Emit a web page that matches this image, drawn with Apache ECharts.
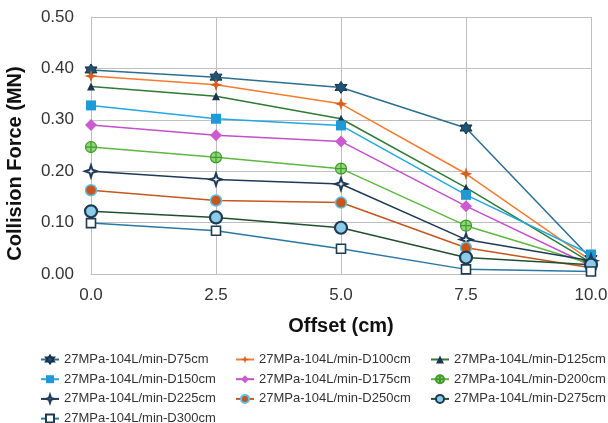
<!DOCTYPE html>
<html>
<head>
<meta charset="utf-8">
<script src="https://cdn.jsdelivr.net/npm/echarts@6/dist/echarts.min.js"></script>
<style>
  html, body { margin: 0; padding: 0; background: #fff; }
  #chart { width: 608px; height: 423px; }
</style>
</head>
<body>
<div id="chart"></div>
<script>
// offsets (cm)
const offsets = [0, 2.5, 5, 7.5, 10];

// collision force (MN) per standoff distance
const d75 = [0.397, 0.383, 0.363, 0.284, 0.030];
const d100 = [0.385, 0.368, 0.331, 0.195, 0.026];
const d125 = [0.365, 0.346, 0.302, 0.168, 0.022];
const d150 = [0.328, 0.302, 0.289, 0.154, 0.038];
const d175 = [0.290, 0.270, 0.258, 0.132, 0.016];
const d200 = [0.247, 0.227, 0.205, 0.094, 0.020];
const d225 = [0.200, 0.184, 0.175, 0.067, 0.026];
const d250 = [0.163, 0.143, 0.139, 0.051, 0.012];
const d275 = [0.122, 0.110, 0.090, 0.032, 0.018];
const d300 = [0.099, 0.084, 0.049, 0.009, 0.005];

const names = [
  "27MPa-104L/min-D75cm", "27MPa-104L/min-D100cm", "27MPa-104L/min-D125cm",
  "27MPa-104L/min-D150cm", "27MPa-104L/min-D175cm", "27MPa-104L/min-D200cm",
  "27MPa-104L/min-D225cm", "27MPa-104L/min-D250cm", "27MPa-104L/min-D275cm",
  "27MPa-104L/min-D300cm"
];

// marker shapes
const hexagram = "path://M10,0 L12.9,5 L18.7,5 L15.8,10 L18.7,15 L12.9,15 L10,20 L7.1,15 L1.3,15 L4.2,10 L1.3,5 L7.1,5 Z";
const star4 = "path://M10,0 L12.5,7.5 L20,10 L12.5,12.5 L10,20 L7.5,12.5 L0,10 L7.5,7.5 Z";
const circlePlus = "path://M0,10 A10,10 0 1,1 20,10 A10,10 0 1,1 0,10 Z M10,1 L10,19 M1,10 L19,10";

function pair(x, y) {
  return x.map((v, i) => [v, y[i]]);
}

function mkSeries(name, data, line, marker, symbol, size, extra) {
  return {
    name: name,
    type: "line",
    data: pair(offsets, data),
    symbol: symbol,
    symbolSize: size,
    lineStyle: { color: line, width: 1.5 },
    itemStyle: Object.assign({ color: marker }, extra || {}),
    emphasis: { disabled: true },
    z: 2
  };
}

const series = [
  mkSeries(names[0], d75, "#2A6F8F", "#1F5373", hexagram, 12, { borderColor: "#17324a", borderWidth: 1 }),
  mkSeries(names[1], d100, "#F47B30", "#D4601E", star4, 13),
  mkSeries(names[2], d125, "#2F7A35", "#1B3550", "triangle", 8),
  mkSeries(names[3], d150, "#22A7E0", "#1E9BD7", "rect", 10),
  mkSeries(names[4], d175, "#C54FC9", "#CC5BD0", "diamond", 12),
  mkSeries(names[5], d200, "#5CB83E", "#8ED67A", circlePlus, 11, { borderColor: "#3f9a2a", borderWidth: 1.2 }),
  mkSeries(names[6], d225, "#1E3A56", "#ffffff", star4, 12, { borderColor: "#1E3A56", borderWidth: 2 }),
  mkSeries(names[7], d250, "#C4571E", "#C8561B", "circle", 11, { borderColor: "#5BC0EB", borderWidth: 1.5 }),
  mkSeries(names[8], d275, "#22502E", "#8CCBEA", "circle", 12, { borderColor: "#1D3B52", borderWidth: 2.2 }),
  mkSeries(names[9], d300, "#2A77A3", "#ffffff", "rect", 9, { borderColor: "#1D3B52", borderWidth: 1.6 })
];

function legendCol(left, data) {
  return {
    orient: "vertical",
    left: left,
    top: 353,
    height: 90,
    padding: 0,
    itemWidth: 18,
    itemHeight: 10,
    itemGap: 6.7,
    data: data,
    textStyle: { fontFamily: "Liberation Sans", fontSize: 13, color: "#333" },
    selectedMode: false
  };
}

const chart = echarts.init(document.getElementById("chart"));
chart.setOption({
  animation: false,
  backgroundColor: "#fff",
  grid: { left: 91, right: 17, top: 17, bottom: 149, outerBoundsMode: "none", containLabel: false },
  legend: [
    legendCol(40, [names[0], names[3], names[6], names[9]]),
    legendCol(235, [names[1], names[4], names[7]]),
    legendCol(430, [names[2], names[5], names[8]])
  ],
  xAxis: {
    type: "value",
    min: 0,
    max: 10,
    interval: 2.5,
    name: "Offset (cm)",
    nameLocation: "middle",
    nameGap: 42,
    nameTextStyle: { fontFamily: "Liberation Sans", fontSize: 20, fontWeight: "bold", color: "#111" },
    axisLine: { show: true, lineStyle: { color: "#BFBFBF", width: 1 } },
    axisTick: { show: false },
    axisLabel: {
      fontFamily: "Liberation Sans", fontSize: 17, color: "#333", margin: 13,
      formatter: v => v.toFixed(1)
    },
    splitLine: { show: true, lineStyle: { color: "#BFBFBF", width: 1 } }
  },
  yAxis: {
    type: "value",
    min: 0,
    max: 0.5,
    interval: 0.1,
    name: "Collision Force (MN)",
    nameLocation: "middle",
    nameGap: 66,
    nameTextStyle: {
      fontFamily: "Liberation Sans", fontSize: 20, fontWeight: "bold", color: "#111",
      padding: [0, 36, 0, 0]
    },
    axisLine: { show: true, lineStyle: { color: "#BFBFBF", width: 1 } },
    axisTick: { show: false },
    axisLabel: {
      fontFamily: "Liberation Sans", fontSize: 17, color: "#333", margin: 17,
      formatter: v => v.toFixed(2)
    },
    splitLine: { show: true, lineStyle: { color: "#BFBFBF", width: 1 } }
  },
  series: series
});
</script>
</body>
</html>
